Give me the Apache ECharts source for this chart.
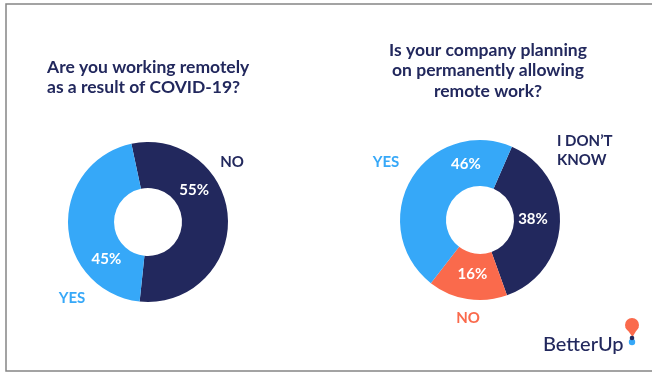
<!DOCTYPE html>
<html>
<head>
<meta charset="utf-8">
<script src="https://cdn.jsdelivr.net/npm/echarts@6/dist/echarts.min.js"></script>
<style>
  html, body { margin: 0; padding: 0; background: #ffffff; }
  #chart { width: 652px; height: 378px; }
</style>
</head>
<body>
<div id="chart"></div>
<script>
// Survey answers
const remoteNames = ['NO', 'YES'];
const remoteValues = [55, 45];
const policyNames = ['I DON\u2019T\nKNOW', 'NO', 'YES'];
const policyValues = [38, 16, 46];
const remoteTitle = 'Are you working remotely\nas a result of COVID-19?';
const policyTitle = 'Is your company planning\non permanently allowing\nremote work?';

const NAVY = '#22285d';
const BLUE = '#36a8f8';
const ORANGE = '#fa6a4c';
const FONT = 'Lato, "Open Sans", sans-serif';

const remoteColors = [NAVY, BLUE];
const policyColors = [NAVY, ORANGE, BLUE];

// donut geometry
const L = { cx: 148, cy: 222, r0: 34, r1: 80, start: 102 };
const R = { cx: 480, cy: 220, r0: 34, r1: 80, start: 66.5 };

// where each percentage sits: angle clockwise from 12 o'clock, distance from centre
const remotePctPlace = [[55.5, 56], [228, 56]];
const policyPctPlace = [[89, 53], [188, 55], [346, 58]];
// category captions: offset from donut centre
const remoteNamePlace = [[84, -60, 'center'], [-76, 76, 'center']];
const policyNamePlace = [[77, -69, 'left'], [-12, 98, 'center'], [-94, -58, 'center']];

function placeAt(g, spec) {
  return function (params) {
    const p = spec[params.dataIndex];
    const a = p[0] * Math.PI / 180;
    return {
      x: g.cx + Math.sin(a) * p[1],
      y: g.cy - Math.cos(a) * p[1],
      align: 'center',
      verticalAlign: 'middle'
    };
  };
}

function donut(g, names, values, colors, place) {
  return {
    type: 'pie',
    center: [g.cx, g.cy],
    radius: [g.r0, g.r1],
    startAngle: g.start,
    clockwise: true,
    silent: true,
    animation: false,
    data: names.map((n, i) => ({ name: n, value: values[i], itemStyle: { color: colors[i] } })),
    label: {
      show: true,
      position: 'inside',
      formatter: '{c}%',
      color: '#ffffff',
      fontFamily: FONT,
      fontWeight: 'bold',
      fontSize: 15
    },
    labelLine: { show: false },
    labelLayout: placeAt(g, place)
  };
}

function captions(g, names, colors, place) {
  return names.map((n, i) => ({
    type: 'text',
    x: g.cx + place[i][0],
    y: g.cy + place[i][1],
    style: {
      text: n,
      fill: colors[i],
      font: 'bold 15px ' + FONT,
      align: place[i][2],
      verticalAlign: 'middle',
      lineHeight: 19
    }
  }));
}

const chart = echarts.init(document.getElementById('chart'), null, { renderer: 'canvas' });

chart.setOption({
  backgroundColor: '#ffffff',
  animation: false,
  title: [
    {
      text: remoteTitle,
      left: 47, top: 57, padding: 0,
      textStyle: { color: NAVY, fontFamily: FONT, fontWeight: 'bold', fontSize: 17.5, lineHeight: 20 }
    },
    {
      text: policyTitle,
      left: 488, top: 40, padding: 0, textAlign: 'center',
      textStyle: { color: NAVY, fontFamily: FONT, fontWeight: 'bold', fontSize: 17.5, lineHeight: 20.5 }
    }
  ],
  series: [
    donut(L, remoteNames, remoteValues, remoteColors, remotePctPlace),
    donut(R, policyNames, policyValues, policyColors, policyPctPlace)
  ],
  graphic: [
    // frame
    {
      type: 'rect',
      shape: { x: 6, y: 4, width: 700, height: 367 },
      style: { fill: 'none', stroke: '#858585', lineWidth: 1.5 },
      silent: true
    },
    ...captions(L, remoteNames, remoteColors, remoteNamePlace),
    ...captions(R, policyNames, policyColors, policyNamePlace),
    // brand mark
    {
      type: 'text',
      x: 543, y: 345,
      style: { text: 'BetterUp', fill: NAVY, font: '500 20px ' + FONT, verticalAlign: 'middle' }
    },
    { type: 'circle', shape: { cx: 632, cy: 325, r: 7 }, style: { fill: ORANGE } },
    {
      type: 'polygon',
      shape: { points: [[625.5, 327], [638.5, 327], [632.5, 337]] },
      style: { fill: ORANGE }
    },
    { type: 'circle', shape: { cx: 632, cy: 342, r: 3.2 }, style: { fill: BLUE } },
    { type: 'circle', shape: { cx: 632, cy: 338, r: 2.3 }, style: { fill: NAVY } }
  ]
});
</script>
</body>
</html>
